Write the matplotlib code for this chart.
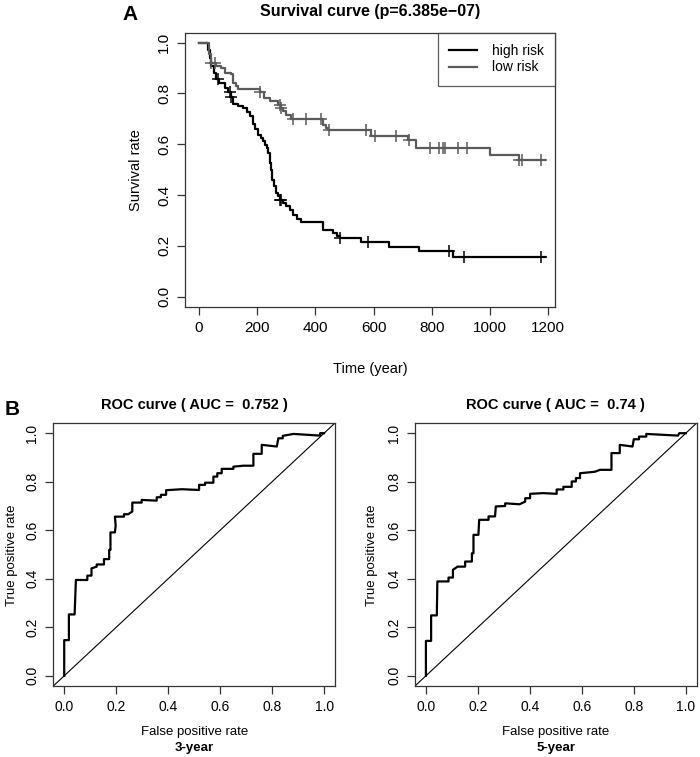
import numpy as np
import matplotlib
matplotlib.use("Agg")
import matplotlib.pyplot as plt
from matplotlib.lines import Line2D

plt.rcParams['font.family'] = ['Liberation Sans', 'DejaVu Sans']

# survival curves (day, survival after the drop)
high_t = [0, 31, 37, 43, 50, 59, 70, 90, 100, 110, 117, 135, 151, 165, 174, 185,
          192, 202, 212, 220, 228, 233, 238, 243, 248, 252, 258, 265, 272, 277,
          290, 300, 312, 323, 338, 351, 426, 460, 475, 483, 557, 654, 757, 872, 1189]
high_s = [1.0, 0.97, 0.94, 0.91, 0.88, 0.855, 0.842, 0.82, 0.805, 0.785, 0.757,
          0.75, 0.744, 0.725, 0.71, 0.68, 0.658, 0.638, 0.625, 0.612, 0.598,
          0.585, 0.565, 0.526, 0.5, 0.46, 0.435, 0.408, 0.395, 0.381, 0.368,
          0.355, 0.34, 0.322, 0.305, 0.292, 0.263, 0.25, 0.24, 0.23, 0.213,
          0.195, 0.178, 0.157, 0.157]
high_cens = [65, 105, 111, 277, 282, 483, 580, 858, 912, 1175]

low_t = [0, 33, 42, 59, 77, 88, 111, 117, 128, 134, 208, 225, 243, 271, 283,
         288, 300, 317, 426, 437, 443, 592, 717, 746, 998, 1098, 1189]
low_s = [1.0, 0.954, 0.921, 0.908, 0.90, 0.881, 0.875, 0.842, 0.831, 0.816,
         0.805, 0.783, 0.77, 0.756, 0.743, 0.73, 0.717, 0.70, 0.677, 0.664,
         0.655, 0.634, 0.618, 0.585, 0.559, 0.537, 0.537]
low_cens = [42, 55, 208, 277, 283, 323, 366, 420, 448, 574, 603, 677, 721, 792,
            826, 837, 846, 889, 920, 1101, 1110, 1175]

# ROC curves
fpr3 = [0, 0, 0.018, 0.018, 0.04, 0.045, 0.089, 0.089, 0.105, 0.105, 0.125, 0.125,
        0.153, 0.153, 0.173, 0.173, 0.178, 0.178, 0.195, 0.198, 0.195, 0.23, 0.23,
        0.246, 0.262, 0.262, 0.298, 0.298, 0.356, 0.356, 0.372, 0.372, 0.392,
        0.392, 0.452, 0.519, 0.519, 0.542, 0.542, 0.574, 0.574, 0.589, 0.589,
        0.606, 0.606, 0.651, 0.651, 0.689, 0.728, 0.728, 0.76, 0.76, 0.818,
        0.824, 0.841, 0.841, 0.882, 0.985, 0.985, 1.0]
tpr3 = [0, 0.147, 0.147, 0.253, 0.253, 0.395, 0.395, 0.413, 0.413, 0.443, 0.45,
        0.459, 0.459, 0.481, 0.481, 0.519, 0.519, 0.591, 0.591, 0.62, 0.656,
        0.656, 0.666, 0.666, 0.677, 0.714, 0.714, 0.725, 0.722, 0.736, 0.736,
        0.746, 0.746, 0.765, 0.769, 0.766, 0.787, 0.787, 0.796, 0.796, 0.821,
        0.821, 0.835, 0.835, 0.853, 0.853, 0.862, 0.866, 0.866, 0.915, 0.915,
        0.952, 0.945, 0.979, 0.979, 0.989, 0.997, 0.99, 1.0, 1.0]

fpr5 = [0, 0, 0.02, 0.02, 0.042, 0.044, 0.087, 0.087, 0.104, 0.104, 0.122, 0.151,
        0.151, 0.177, 0.177, 0.183, 0.183, 0.202, 0.205, 0.241, 0.241, 0.266,
        0.269, 0.305, 0.305, 0.36, 0.382, 0.382, 0.401, 0.401, 0.452, 0.503,
        0.503, 0.529, 0.529, 0.561, 0.561, 0.577, 0.577, 0.593, 0.593, 0.65,
        0.67, 0.714, 0.714, 0.746, 0.746, 0.795, 0.80, 0.82, 0.82, 0.848, 0.848,
        0.97, 0.975, 1.0]
tpr5 = [0, 0.144, 0.144, 0.249, 0.249, 0.389, 0.389, 0.405, 0.405, 0.437, 0.45,
        0.45, 0.471, 0.471, 0.505, 0.505, 0.581, 0.581, 0.643, 0.643, 0.657,
        0.657, 0.698, 0.70, 0.711, 0.707, 0.718, 0.732, 0.732, 0.75, 0.753,
        0.75, 0.768, 0.768, 0.779, 0.779, 0.801, 0.801, 0.815, 0.815, 0.835,
        0.841, 0.849, 0.849, 0.918, 0.918, 0.952, 0.945, 0.975, 0.975, 0.986,
        0.986, 0.997, 0.99, 1.0, 1.0]

auc_3, auc_5 = "0.752", "0.74"
p_text = "6.385e\u221207"

W, H = 700, 757
fig = plt.figure(figsize=(W / 100, H / 100), dpi=100)


def px_axes(l, t, r, b):
    return fig.add_axes([l / W, 1 - b / H, (r - l) / W, (b - t) / H])


def r_style(ax, size=10):
    for s in ax.spines.values():
        s.set_linewidth(0.9)
        s.set_color('#333333')
    ax.tick_params(direction='out', length=6, width=0.9, color='#333333',
                   labelsize=size, pad=4)
    for lab in ax.get_yticklabels():
        lab.set_rotation(90)
        lab.set_va('center')


def surv_at(t, s, q):
    idx = np.searchsorted(t, q, side='right') - 1
    return np.asarray(s)[idx]


# --- A: survival ---
ax = px_axes(185, 32.5, 555, 306.7)
ax.step(high_t, high_s, where='post', color='black', lw=1.6)
ax.step(low_t, low_s, where='post', color='#5a5a5a', lw=1.6)
ax.plot(high_cens, surv_at(high_t, high_s, high_cens), '+', color='black',
        ms=9, mew=1.1)
ax.plot(low_cens, surv_at(low_t, low_s, low_cens), '+', color='#5a5a5a',
        ms=9, mew=1.1)
ax.set_xlim(-48, 1223)
ax.set_ylim(-0.04, 1.04)
ax.set_xticks(np.arange(0, 1201, 200))
ax.set_yticks(np.arange(0, 1.01, 0.2))
ax.set_yticklabels([f"{v:.1f}" for v in np.arange(0, 1.01, 0.2)])
r_style(ax, 11)
ax.set_xlabel("Time (year)", fontsize=10.5, labelpad=20)
ax.set_ylabel("Survival rate", fontsize=10.5, labelpad=10)
ax.set_title(f"Survival curve (p={p_text})", fontsize=11.5, fontweight='bold',
             pad=12)
handles = [Line2D([], [], color='black', lw=1.6),
           Line2D([], [], color='#5a5a5a', lw=1.6)]
leg = ax.legend(handles, ["high risk", "low risk"], loc='upper right',
                fontsize=10, frameon=True, fancybox=False, borderaxespad=0,
                handlelength=2.0, labelspacing=0.2, borderpad=0.8,
                handletextpad=1.1)
leg.get_frame().set_edgecolor('#333333')
leg.get_frame().set_linewidth(0.9)
fig.text(130 / W, 1 - 15 / H, "A", fontsize=15, fontweight='bold',
         ha='center', va='center')

# --- B: ROC ---
for left, fpr, tpr, auc, lab, yl in [(53.3, fpr3, tpr3, auc_3, "3-year", 12),
                                      (415, fpr5, tpr5, auc_5, "5-year", 372)]:
    ax = px_axes(left, 423, left + 281.7, 686)
    ax.plot(fpr, tpr, color='black', lw=1.6)
    ax.axline((0, 0), (1, 1), color='black', lw=0.8)
    ax.set_xlim(-0.042, 1.042)
    ax.set_ylim(-0.042, 1.042)
    ticks = np.arange(0, 1.01, 0.2)
    ax.set_xticks(ticks)
    ax.set_yticks(ticks)
    ax.set_xticklabels([f"{v:.1f}" for v in ticks])
    ax.set_yticklabels([f"{v:.1f}" for v in ticks])
    r_style(ax)
    ax.set_title(f"ROC curve ( AUC =  {auc} )", fontsize=10.5,
                 fontweight='bold', pad=10)
    cx = (left + 140.85) / W
    fig.text(cx, 1 - 732 / H, "False positive rate", fontsize=9.5,
             ha='center', va='center')
    fig.text(cx, 1 - 748 / H, lab, fontsize=9.5, fontweight='bold',
             ha='center', va='center')
    fig.text(yl / W, 1 - 555 / H, "True positive rate", fontsize=9.5,
             rotation=90, ha='center', va='center')

fig.text(12 / W, 1 - 410 / H, "B", fontsize=15, fontweight='bold',
         ha='center', va='center')

fig.savefig("out.png", dpi=100, facecolor='white')
